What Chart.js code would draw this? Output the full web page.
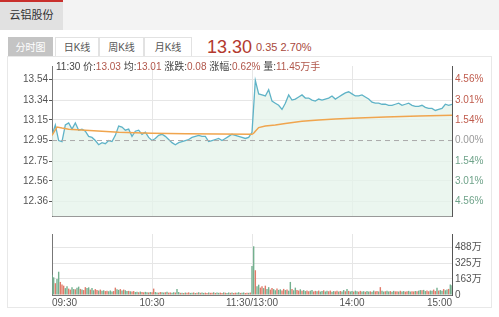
<!DOCTYPE html>
<html>
<head>
<meta charset="utf-8">
<script src="https://cdn.jsdelivr.net/npm/chart.js@4.4.0/dist/chart.umd.min.js"></script>
<style>
  body { margin: 0; width: 499px; height: 317px; background: #fff; overflow: hidden; position: relative;
         font-family: "Liberation Sans", "Noto Sans CJK SC", sans-serif; }
  .topbar { position: absolute; left: 0; top: 0; width: 499px; height: 30px; background: #f3f3f3; }
  .stock { position: absolute; left: 0; top: 0; width: 63px; height: 30px; background: #e1e1e1;
           border-top: 2px solid #c9302c; box-sizing: border-box; font-size: 11px; color: #333;
           line-height: 27px; text-align: center; }
  .box { position: absolute; left: 7px; top: 56px; width: 485px; height: 252px; border: 1px solid #e8e8e8; box-sizing: border-box; }
  .tab { position: absolute; top: 37px; height: 19px; line-height: 19px; font-size: 10px; color: #555;
         text-align: center; border: 1px solid #e2e2e2; border-bottom: none; box-sizing: border-box; background: #fff; }
  .tab.on { background: #c4c4c4; color: #fff; border-color: #c4c4c4; }
  .last { position: absolute; left: 207px; top: 37px; font-size: 18px; color: #b3392e; }
  .chg { position: absolute; left: 256px; top: 41px; font-size: 11px; color: #a8483c; }
  .info { position: absolute; left: 56px; top: 58px; font-size: 10px; color: #444; white-space: nowrap; }
  .info b { font-weight: normal; color: #b0564a; }
  .pane { position: absolute; left: 0; }
</style>
</head>
<body>
<div class="topbar"></div>
<div class="stock">云铝股份</div>
<div class="box"></div>
<div class="tab on" style="left:8px;width:45px;">分时图</div>
<div class="tab" style="left:55px;width:44px;">日K线</div>
<div class="tab" style="left:99px;width:45px;">周K线</div>
<div class="tab" style="left:144px;width:48px;">月K线</div>
<div class="last">13.30</div>
<div class="chg">0.35 2.70%</div>

<div class="pane" style="top:57px;"><canvas id="priceChart" width="499" height="168"></canvas></div>
<div class="pane" style="top:225px;"><canvas id="volChart" width="499" height="92"></canvas></div>
<div class="info">11:30 价:<b>13.03</b> 均:<b>13.01</b> 涨跌:<b>0.08</b> 涨幅:<b>0.62%</b> 量:<b>11.45万手</b></div>

<script>
// time axis: 0..240 minutes of trading
const timeLabels = ['09:30', '10:30', '11:30/13:00', '14:00', '15:00'];
const prevClose = 12.95;
const priceTicks = [12.36, 12.56, 12.75, 12.95, 13.15, 13.34, 13.54];
const pctLabels = ['4.56%', '3.01%', '1.54%', '0.00%', '1.54%', '3.01%', '4.56%'];
const volTicks = [0, 163, 325, 488];
const volLabels = ['0', '163万', '325万', '488万'];

// price every 2 minutes (121 values)
const price2m = [
  13.00, 13.10, 12.95, 12.94, 13.10, 13.12, 13.06, 13.12, 13.05, 13.06,
  13.04, 12.99, 12.98, 12.95, 12.91, 12.93, 12.92, 12.95, 12.94, 13.00,
  13.09, 13.08, 13.05, 13.06, 12.99, 13.04, 13.05, 13.01, 13.03, 12.98,
  12.95, 12.97, 13.00, 13.01, 12.99, 12.96, 12.93, 12.91, 12.93, 12.94,
  12.95, 12.96, 12.98, 12.99, 13.00, 12.99, 12.99, 12.94, 12.95, 12.96,
  12.97, 12.95, 12.97, 12.99, 13.01, 13.00, 12.99, 12.98, 12.97, 12.98,
  13.03,
  13.53, 13.40, 13.39, 13.38, 13.44, 13.33, 13.31, 13.29, 13.25, 13.31,
  13.39, 13.34, 13.35, 13.37, 13.39, 13.36, 13.36, 13.34, 13.33, 13.35,
  13.34, 13.35, 13.36, 13.38, 13.35, 13.37, 13.39, 13.41, 13.42, 13.40,
  13.38, 13.38, 13.39, 13.37, 13.35, 13.32, 13.31, 13.31, 13.30, 13.30,
  13.29, 13.29, 13.30, 13.31, 13.29, 13.30, 13.31, 13.29, 13.28, 13.28,
  13.29, 13.27, 13.26, 13.26, 13.24, 13.25, 13.26, 13.30, 13.29, 13.30
];

// average price line
const avgMin = [0, 3, 6, 10, 15, 20, 30, 40, 50, 60, 80, 100, 120, 121, 122, 124, 128, 134, 140, 150, 160, 170, 180, 200, 220, 240];
const avgVal = [13.00, 13.08, 13.07, 13.06, 13.055, 13.05, 13.04, 13.03, 13.025, 13.02, 13.015, 13.012, 13.01,
                13.02, 13.04, 13.075, 13.09, 13.10, 13.115, 13.135, 13.148, 13.157, 13.165, 13.178, 13.187, 13.193];

// volume per minute, 万 (241 values)
const volume = [
  207, 180, 120, 163, 237, 133, 107, 95, 70, 90, 65, 55, 80, 60, 58, 75, 85, 62, 55, 50,
  80, 70, 78, 55, 72, 48, 60, 50, 45, 55, 42, 48, 40, 44, 38, 46, 36, 40, 75, 58,
  52, 60, 45, 55, 48, 40, 42, 38, 35, 40, 30, 33, 28, 35, 30, 27, 32, 29, 26, 30,
  28, 65, 30, 26, 24, 30, 27, 25, 28, 32, 24, 26, 22, 28, 25, 60, 30, 22, 24, 20,
  25, 22, 27, 21, 24, 26, 20, 23, 28, 22, 25, 21, 24, 20, 26, 22, 23, 28, 21, 25,
  22, 24, 20, 27, 23, 21, 26, 22, 25, 20, 24, 22, 28, 21, 23, 26, 20, 24, 22, 25,
  296, 496, 252, 90, 105, 75, 88, 70, 95, 62, 80, 55, 70, 60, 48, 66, 52, 58, 45, 62,
  50, 55, 44, 133, 60, 48, 75, 52, 45, 58, 42, 50, 40, 46, 38, 44, 50, 36, 42, 38,
  45, 35, 40, 48, 36, 42, 38, 45, 34, 40, 37, 44, 35, 41, 36, 50, 38, 60, 42, 36,
  40, 35, 44, 38, 34, 42, 36, 39, 33, 41, 35, 38, 34, 45, 37, 40, 36, 80, 42, 35,
  38, 44, 36, 40, 34, 42, 37, 39, 35, 43, 36, 40, 34, 38, 42, 35, 39, 36, 41, 37,
  44, 50, 48, 52, 40, 45, 38, 46, 42, 55, 40, 75, 45, 50, 42, 60, 48, 55, 62, 107,
  100
];
// u = up minute, d = down minute
const volDir = [
  'ddudduuudduudduddudu', 'uddudduududduuddduud', 'dududduduudduduuddud',
  'uudduudduduudduddudu', 'duuddudududduuduudud', 'duududduduuddudduudu',
  'ddudduududduuddudduu', 'duddudduududduudduud', 'uddudduudduududdudud',
  'dudduudduddudduududd', 'uddudduududduudduudu', 'ddudduudduududduddud', 'd'
].join('');

Chart.defaults.font.family = '"Liberation Sans", "Noto Sans CJK SC", sans-serif';
Chart.defaults.font.size = 10;
Chart.defaults.color = '#555';

const LEFT_W = 52, RIGHT_W = 47;
const gridColor = '#e6e6e6';

new Chart(document.getElementById('priceChart'), {
  type: 'line',
  data: {
    datasets: [
      {
        data: avgMin.map((m, i) => ({ x: m, y: avgVal[i] })),
        borderColor: '#f0a54e', borderWidth: 1.5, pointRadius: 0, fill: false
      },
      {
        data: [{ x: 0, y: prevClose }, { x: 240, y: prevClose }],
        borderColor: '#aaaaaa', borderWidth: 1, borderDash: [5, 4], pointRadius: 0, fill: false
      },
      {
        data: price2m.map((p, i) => ({ x: i * 2, y: p })),
        borderColor: '#5fb3c7', borderWidth: 1.3, pointRadius: 0,
        fill: 'start', backgroundColor: 'rgba(228, 243, 233, 0.75)'
      }
    ]
  },
  options: {
    responsive: false,
    animation: false,
    layout: { padding: 0 },
    plugins: { legend: { display: false }, tooltip: { enabled: false } },
    scales: {
      x: {
        type: 'linear', min: 0, max: 240,
        ticks: { stepSize: 60, display: false },
        grid: { color: gridColor, drawTicks: false },
        border: { display: true, color: '#999' },
        afterFit: s => { s.height = 0; }
      },
      y: {
        position: 'left', min: 12.222, max: 13.669,
        afterBuildTicks: s => { s.ticks = priceTicks.map(v => ({ value: v })); },
        ticks: { callback: v => v.toFixed(2), padding: 1, color: '#555' },
        grid: { color: ctx => ctx.tick && ctx.tick.value === prevClose ? 'transparent' : gridColor,
                tickColor: '#555', tickLength: 3 },
        border: { color: '#777' },
        afterFit: s => { s.width = LEFT_W; }
      },
      yR: {
        position: 'right', min: 12.222, max: 13.669,
        afterBuildTicks: s => { s.ticks = priceTicks.map(v => ({ value: v })); },
        ticks: {
          callback: (v, i) => pctLabels[i], padding: 3,
          color: ctx => ctx.index < 3 ? '#6fa38a' : (ctx.index === 3 ? '#999' : '#bf5a4b')
        },
        grid: { drawOnChartArea: false, drawTicks: false },
        border: { color: '#555' },
        afterFit: s => { s.width = RIGHT_W; }
      }
    }
  }
});

new Chart(document.getElementById('volChart'), {
  type: 'bar',
  data: {
    datasets: [{
      data: volume.map((v, i) => ({ x: i, y: v })),
      backgroundColor: volume.map((v, i) => volDir[i] === 'u' ? '#e27a69' : '#74b08f'),
      borderWidth: 0,
      barPercentage: 1,
      categoryPercentage: 0.85
    }]
  },
  options: {
    responsive: false,
    animation: false,
    layout: { padding: 0 },
    plugins: { legend: { display: false }, tooltip: { enabled: false } },
    scales: {
      x: {
        type: 'linear', min: 0, max: 240, offset: false,
        ticks: { stepSize: 60, callback: (v) => timeLabels[v / 60], align: 'inner', maxRotation: 0, padding: 2, color: '#555' },
        grid: { color: gridColor, drawTicks: false, offset: false },
        border: { color: '#777' },
        afterFit: s => { s.height = 22; }
      },
      y: {
        position: 'left', min: 0, max: 621,
        afterBuildTicks: s => { s.ticks = volTicks.map(v => ({ value: v })); },
        ticks: { display: false },
        grid: { color: gridColor, drawTicks: false },
        border: { color: '#777' },
        afterFit: s => { s.width = LEFT_W; }
      },
      yR: {
        position: 'right', min: 0, max: 621,
        afterBuildTicks: s => { s.ticks = volTicks.map(v => ({ value: v })); },
        ticks: { callback: (v, i) => volLabels[i], padding: 3, color: '#555' },
        grid: { drawOnChartArea: false, drawTicks: false },
        border: { color: '#555' },
        afterFit: s => { s.width = RIGHT_W; }
      }
    }
  }
});
</script>
</body>
</html>
